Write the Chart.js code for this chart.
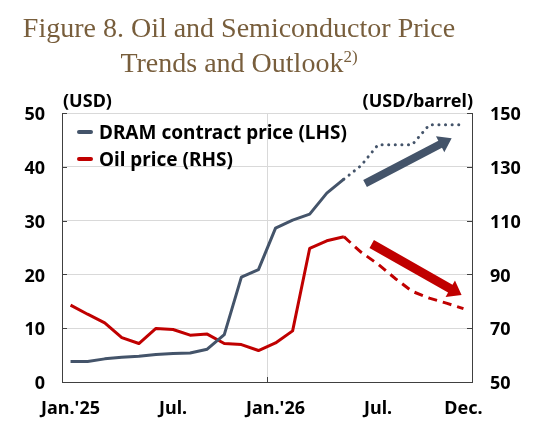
<!DOCTYPE html>
<html><head><meta charset="utf-8">
<script src="https://cdn.jsdelivr.net/npm/chart.js@4"></script>
<style>
html,body{margin:0;padding:0;background:#fff;}
#wrap{position:relative;width:537px;height:442px;overflow:hidden;}
#title{position:absolute;left:0;top:10px;width:478px;text-align:center;font-family:"Liberation Serif","Times New Roman",serif;font-size:28px;line-height:35px;color:#785e3c;}
#title sup{font-size:17px;line-height:0;vertical-align:baseline;position:relative;top:-10px;}
.unit{position:absolute;font-family:"Noto Sans",sans-serif;font-weight:bold;font-size:18px;color:#000;top:88px;line-height:24px;white-space:nowrap;}
canvas{position:absolute;left:0;top:0;}
</style></head>
<body><div id="wrap">
<canvas id="c" width="537" height="442"></canvas>
<div id="title">Figure 8. Oil and Semiconductor Price<br>Trends and Outlook<sup>2)</sup></div>
<div class="unit" style="left:63px">(USD)</div>
<div class="unit" style="right:64px">(USD/barrel)</div>
</div>
<script>
const months = ["Jan.'25","Feb.'25","Mar.'25","Apr.'25","May.'25","Jun.'25","Jul.'25","Aug.'25","Sep.'25","Oct.'25","Nov.'25","Dec.'25",
                "Jan.'26","Feb.'26","Mar.'26","Apr.'26","May.'26","Jun.'26","Jul.'26","Aug.'26","Sep.'26","Oct.'26","Nov.'26","Dec.'26"];
const tickLabels = ["Jan.'25","","","","","","Jul.","","","","","","Jan.'26","","","","","","Jul.","","","","","Dec."];
const dramPrice = [3.8, 3.8, 4.3, 4.6, 4.8, 5.1, 5.3, 5.4, 6.1, 8.8, 19.5, 20.9, 28.6, 30.1, 31.2, 35.1, 37.7, 40.2, 44.1, 44.1, 44.1, 47.8, 47.8, 47.8];
const oilPrice  = [78.6, 75.2, 72.0, 66.5, 64.3, 69.9, 69.5, 67.4, 67.8, 64.3, 63.9, 61.7, 64.5, 69.0, 99.7, 102.5, 104.0, 98.3, 93.8, 88.5, 83.7, 81.2, 79.3, 77.3];
const forecastFrom = 16;
const seriesLabels = ["DRAM contract price (LHS)", "Oil price (RHS)"];
const leftAxis = {min: 0, max: 50, step: 10};
const rightAxis = {min: 50, max: 150, step: 20};

const BLUE = '#44546A', RED = '#C00000';
const FONT = 'Noto Sans';
Chart.defaults.font.family = FONT;

// trend arrows (annotation), anchored to the chart scales
const trendArrows = [
  {axis: 'y',  from: [17.24, 36.9], to: [22.31, 45.3], color: BLUE, shaft: 8, headW: 18, headL: 13},
  {axis: 'y1', from: [17.63, 101.3], to: [22.89, 82.3], color: RED, shaft: 9, headW: 19, headL: 13}
];

const innerTicks = {
  id: 'innerTicks',
  beforeDatasetsDraw(chart) {
    const {ctx, chartArea: a, scales} = chart;
    ctx.save();
    ctx.strokeStyle = '#404040'; ctx.lineWidth = 1;
    const ln = (x1, y1, x2, y2) => { ctx.beginPath(); ctx.moveTo(x1, y1); ctx.lineTo(x2, y2); ctx.stroke(); };
    scales.y.ticks.forEach(t => { const p = Math.round(scales.y.getPixelForValue(t.value)) + 0.5; ln(a.left, p, a.left + 5, p); });
    scales.y1.ticks.forEach(t => { const p = Math.round(scales.y1.getPixelForValue(t.value)) + 0.5; ln(a.right - 5, p, a.right, p); });
    const px = Math.round((scales.x.getPixelForValue(11) + scales.x.getPixelForValue(12)) / 2) + 0.5;
    ln(px, a.bottom, px, a.bottom - 5);
    ctx.restore();
  }
};

const arrowsPlugin = {
  id: 'arrows',
  afterDatasetsDraw(chart) {
    const {ctx, scales} = chart;
    trendArrows.forEach(ar => {
      const ys = scales[ar.axis];
      const x0 = scales.x.getPixelForValue(ar.from[0]), y0 = ys.getPixelForValue(ar.from[1]);
      const x1 = scales.x.getPixelForValue(ar.to[0]),   y1 = ys.getPixelForValue(ar.to[1]);
      const dx = x1 - x0, dy = y1 - y0, L = Math.hypot(dx, dy);
      const ux = dx / L, uy = dy / L, nx = -uy, ny = ux;
      const bx = x1 - ux * ar.headL, by = y1 - uy * ar.headL;
      const s = ar.shaft / 2, h = ar.headW / 2;
      ctx.save();
      ctx.fillStyle = ar.color;
      ctx.beginPath();
      ctx.moveTo(x0 + nx * s, y0 + ny * s);
      ctx.lineTo(bx + nx * s, by + ny * s);
      ctx.lineTo(bx + nx * h, by + ny * h);
      ctx.lineTo(x1, y1);
      ctx.lineTo(bx - nx * h, by - ny * h);
      ctx.lineTo(bx - nx * s, by - ny * s);
      ctx.lineTo(x0 - nx * s, y0 - ny * s);
      ctx.closePath();
      ctx.fill();
      ctx.restore();
    });
  }
};

const legendPlugin = {
  id: 'customLegend',
  afterDraw(chart) {
    const {ctx, chartArea: a} = chart;
    ctx.save();
    chart.data.datasets.forEach((ds, i) => {
      const cy = a.top + 21 + i * 27;
      ctx.strokeStyle = ds.borderColor; ctx.lineWidth = 4; ctx.lineCap = 'round';
      ctx.beginPath(); ctx.moveTo(a.left + 17, cy - 2); ctx.lineTo(a.left + 29, cy - 2); ctx.stroke();
      ctx.fillStyle = '#000'; ctx.font = 'bold 19px "' + FONT + '"';
      ctx.textBaseline = 'middle'; ctx.textAlign = 'left';
      ctx.fillText(ds.label, a.left + 37, cy);
    });
    ctx.restore();
  }
};

const tickFont = {family: FONT, weight: 'bold', size: 18};

new Chart(document.getElementById('c'), {
  type: 'line',
  data: {
    labels: months,
    datasets: [
      {label: seriesLabels[0], data: dramPrice, yAxisID: 'y', borderColor: BLUE, borderWidth: 3, pointRadius: 0, tension: 0,
       borderJoinStyle: 'round',
       segment: {
         borderDash: c => c.p0DataIndex >= forecastFrom ? [0.1, 6.5] : undefined,
         borderCapStyle: c => c.p0DataIndex >= forecastFrom ? 'round' : 'butt'
       }},
      {label: seriesLabels[1], data: oilPrice, yAxisID: 'y1', borderColor: RED, borderWidth: 3, pointRadius: 0, tension: 0,
       borderJoinStyle: 'round',
       segment: {
         borderDash: c => c.p0DataIndex >= forecastFrom ? [9, 6] : undefined
       }}
    ]
  },
  options: {
    responsive: false,
    animation: false,
    events: [],
    layout: {padding: {top: 113, left: 0, right: 0, bottom: 0}},
    plugins: {legend: {display: false}, tooltip: {enabled: false}},
    scales: {
      x: {
        type: 'category', offset: true,
        grid: {offset: true, drawTicks: false, lineWidth: 1, color: c => c.index === 12 ? '#d9d9d9' : 'rgba(0,0,0,0)'},
        border: {display: true, color: '#404040'},
        ticks: {autoSkip: false, maxRotation: 0, padding: 16, color: '#000', font: tickFont, callback: (v, i) => tickLabels[i]},
        afterFit: s => { s.height = 60; }
      },
      y: {
        position: 'left', min: leftAxis.min, max: leftAxis.max,
        ticks: {stepSize: leftAxis.step, padding: 17, labelOffset: 2, color: '#000', font: tickFont},
        grid: {color: '#d9d9d9', drawTicks: false},
        border: {display: true, color: '#404040'},
        afterFit: s => { s.width = 62; }
      },
      y1: {
        position: 'right', min: rightAxis.min, max: rightAxis.max,
        ticks: {stepSize: rightAxis.step, padding: 18, labelOffset: 2, color: '#000', font: tickFont},
        grid: {display: false, drawTicks: false},
        border: {display: true, color: '#404040'},
        afterFit: s => { s.width = 65; }
      }
    }
  },
  plugins: [innerTicks, arrowsPlugin, legendPlugin]
});
</script>
</body></html>
